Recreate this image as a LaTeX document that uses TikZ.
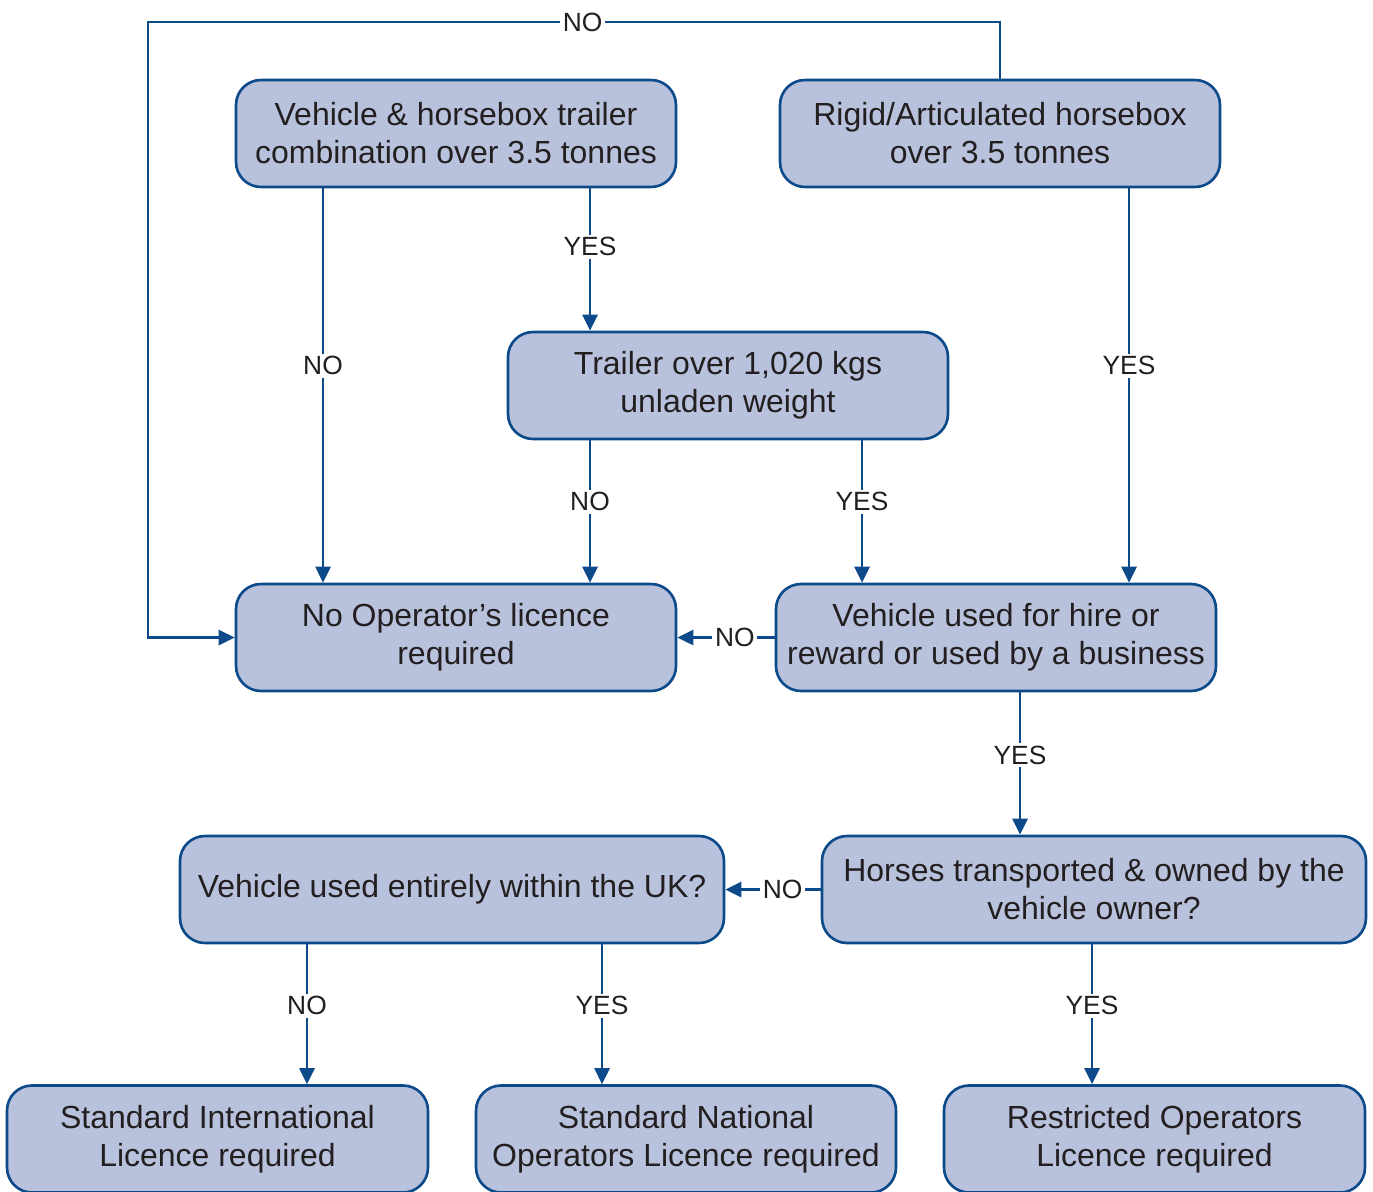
\documentclass[tikz,border=0pt]{standalone}
\usepackage{fontspec}
\setmainfont{Liberation Sans}
\usepackage{xcolor}
\usetikzlibrary{arrows.meta, positioning, calc}
\definecolor{edgeblue}{HTML}{0D4A8A}
\definecolor{boxfill}{HTML}{B9C2DC}
\definecolor{ink}{HTML}{231F20}
\tikzset{
  box/.style={draw=edgeblue, line width=1.5pt, rounded corners=0.5cm, fill=boxfill, align=center,
    text=ink, font=\fontsize{18.2}{21.6}\selectfont, minimum height=2.14cm, inner sep=2pt},
  note/.style={fill=white, text=ink, font=\fontsize{15}{17}\selectfont, inner sep=1.5pt},
  arr/.style={-{Triangle[length=0.32cm, width=0.3cm]}, draw=edgeblue, line width=1.6pt},
}

\begin{document}
\begin{tikzpicture}
  \useasboundingbox (0,0) rectangle (27.46,-23.82);

  % top row
  \node[box, minimum width=8.8cm] (combo) at (9.12,-2.67)
    {Vehicle \& horsebox trailer\\combination over 3.5 tonnes};
  \node[box, minimum width=8.8cm] (rigid) at (20.0,-2.67)
    {Rigid/Articulated horsebox\\over 3.5 tonnes};
  \node[box, minimum width=8.8cm] (trailer) at (14.56,-7.71)
    {Trailer over 1,020 kgs\\unladen weight};

  % middle rows
  \node[box, minimum width=8.8cm] (nolic) at (9.12,-12.75)
    {No Operator’s licence\\required};
  \node[box, minimum width=8.8cm] (hire) at (19.92,-12.75)
    {Vehicle used for hire or\\reward or used by a business};
  \node[box, minimum width=10.88cm] (inuk) at (9.04,-17.79)
    {Vehicle used entirely within the UK?};
  \node[box, minimum width=10.88cm] (owner) at (21.88,-17.79)
    {Horses transported \& owned by the\\vehicle owner?};

  % outcomes
  \node[box, minimum width=8.42cm] (intl) at (4.35,-22.78)
    {Standard International\\Licence required};
  \node[box, minimum width=8.4cm] (natl) at (13.72,-22.78)
    {Standard National\\Operators Licence required};
  \node[box, minimum width=8.42cm] (restr) at (23.09,-22.78)
    {Restricted Operators\\Licence required};

  \coordinate (loop) at (2.96,-0.44);

  \draw[arr] ([xshift=-2.66cm]combo.south) -- ([xshift=-2.66cm]combo.south |- nolic.north)
    node[note, pos=0.45] {NO};
  \draw[arr] ([xshift=2.68cm]combo.south) -- ([xshift=2.68cm]combo.south |- trailer.north)
    node[note, pos=0.41] {YES};
  \draw[arr] ([xshift=-2.76cm]trailer.south) -- ([xshift=-2.76cm]trailer.south |- nolic.north)
    node[note, pos=0.43] {NO};
  \draw[arr] ([xshift=2.68cm]trailer.south) -- ([xshift=2.68cm]trailer.south |- hire.north)
    node[note, pos=0.43] {YES};
  \draw[arr] ([xshift=2.58cm]rigid.south) -- ([xshift=2.58cm]rigid.south |- hire.north)
    node[note, pos=0.45] {YES};
  \draw[arr] (rigid.north) |- (loop) node[note, pos=0.745] {NO} |- (nolic.west);
  \draw[arr] (hire.west) -- (nolic.east) node[note, pos=0.41] {NO};

  \draw[arr] ([xshift=0.48cm]hire.south) -- ([xshift=0.48cm]hire.south |- owner.north)
    node[note, pos=0.44] {YES};
  \draw[arr] (owner.west) -- (inuk.east) node[note, pos=0.4] {NO};

  \draw[arr] ([xshift=-2.9cm]inuk.south) -- ([xshift=-2.9cm]inuk.south |- intl.north)
    node[note, pos=0.44] {NO};
  \draw[arr] ([xshift=3.0cm]inuk.south) -- ([xshift=3.0cm]inuk.south |- natl.north)
    node[note, pos=0.44] {YES};
  \draw[arr] ([xshift=-0.04cm]owner.south) -- ([xshift=-0.04cm]owner.south |- restr.north)
    node[note, pos=0.44] {YES};
\end{tikzpicture}
\end{document}
